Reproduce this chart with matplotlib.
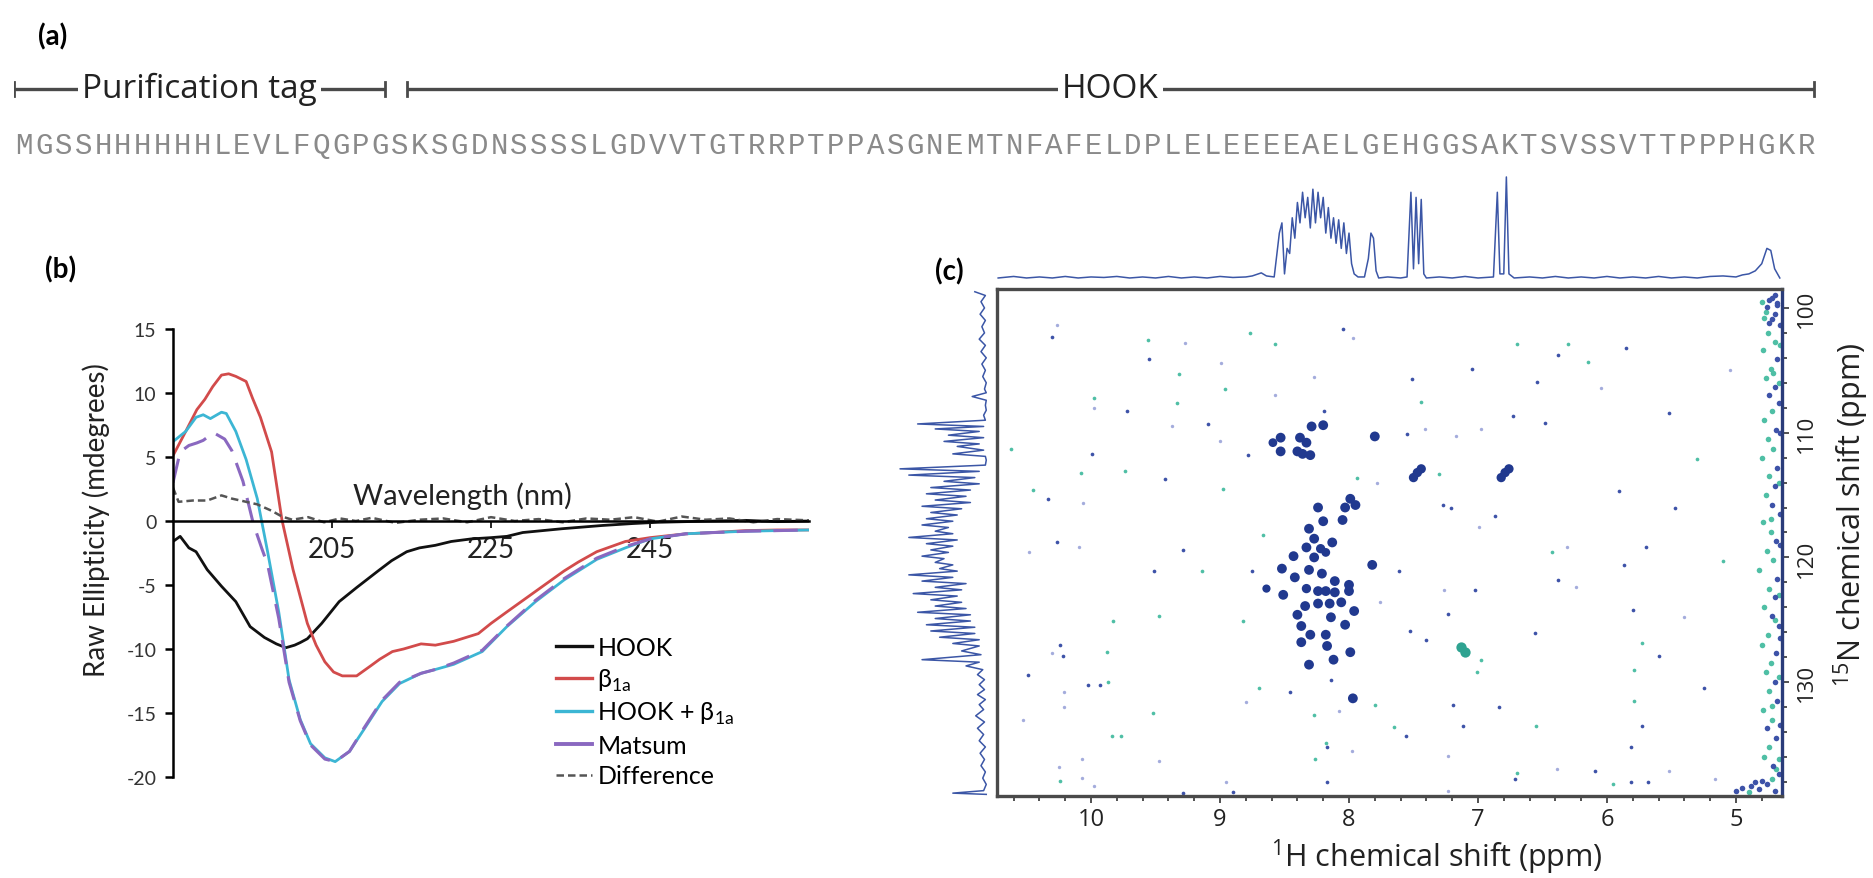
import matplotlib
matplotlib.use("Agg")
import matplotlib.pyplot as plt
from matplotlib.lines import Line2D
from matplotlib.ticker import MultipleLocator, FixedLocator

plt.rcParams['font.family'] = ['Lato', 'DejaVu Sans']
plt.rcParams['mathtext.fontset'] = 'custom'
plt.rcParams['mathtext.rm'] = 'Lato'
plt.rcParams['axes.unicode_minus'] = False

# ---------------- data ----------------
# (a) sequence and domains (residue ranges)
sequence = "MGSSHHHHHHLEVLFQGPGSKSGDNSSSSLGDVVTGTRRPTPPASGNEMTNFAFELDPLELEEEEAELGEHGGSAKTSVSSVTTPPPHGKR"
domain_names = ["Purification tag", "HOOK"]
domain_start = [0.0, 19.85]
domain_end = [18.75, 90.9]

# (b) CD spectra (wavelength nm, raw ellipticity mdeg)
wl_hook = [185, 185.9, 187, 187.9, 189.3, 191.1, 192.9, 194.7, 196.5, 198, 199.2, 200.3, 201, 201.9,
           203.7, 205.9, 208.1, 210.8, 212.5, 214.4, 216, 218, 220, 222.5, 225, 227, 229, 231.5, 234,
           236, 239, 242.8, 246, 249.5, 253, 257, 261, 265]
cd_hook = [-1.6, -1.2, -2.1, -2.4, -3.8, -5.1, -6.3, -8.25, -9.1, -9.6, -9.9, -9.7, -9.5, -9.2,
           -8.0, -6.3, -5.2, -3.9, -3.1, -2.4, -2.1, -1.9, -1.6, -1.4, -1.3, -1.2, -0.9, -0.75, -0.6,
           -0.5, -0.35, -0.2, -0.1, -0.05, 0.0, 0.05, -0.05, 0.0]

wl_beta = [185, 186.6, 188, 189, 190, 191.1, 192, 192.9, 194.2, 195, 196, 197.4, 198.7, 200.1, 201.9,
           203, 204.1, 205.2, 206.3, 208.1, 209.9, 211, 212.6, 214, 216.2, 218, 220.3, 223.4, 225, 227,
           230.6, 234.2, 236, 238.3, 241.9, 245, 249.5, 253, 257, 261, 265]
cd_beta = [5.1, 7.0, 8.7, 9.5, 10.5, 11.4, 11.5, 11.3, 10.9, 9.6, 8.1, 5.4, 0.1, -3.8, -8.0,
           -9.7, -11.0, -11.8, -12.1, -12.1, -11.3, -10.8, -10.2, -10.0, -9.6, -9.7, -9.4, -8.8, -8.0, -7.1,
           -5.5, -3.9, -3.2, -2.4, -1.6, -1.3, -1.0, -0.9, -0.75, -0.7, -0.7]

wl_mix = [185, 186.6, 187.9, 188.8, 189.7, 191.1, 191.7, 192.9, 194.2, 195.6, 196.9, 198.3, 199.6, 201,
          202.3, 204.1, 205.4, 207.2, 209, 211.3, 213.5, 216.2, 218, 220.3, 223.9, 227, 230.6, 234.2,
          238.3, 241.9, 245, 249.5, 253, 257, 261, 265]
cd_mix = [6.2, 7.0, 8.1, 8.3, 8.0, 8.5, 8.4, 7.0, 4.8, 1.75, -2.4, -7.1, -12.4, -15.5,
          -17.4, -18.5, -18.8, -18.0, -16.3, -14.1, -12.7, -11.9, -11.6, -11.2, -10.2, -8.25, -6.3, -4.6,
          -3.0, -2.1, -1.4, -1.0, -0.9, -0.8, -0.75, -0.7]

wl_sum = [185, 185.9, 187, 188, 188.8, 190.1, 191.5, 192.4, 193.8, 195.1, 196.2, 196.9, 198.3, 199.6,
          201, 202.3, 204.1, 205.4, 207.2, 209, 211.3, 213.5, 216.2, 218, 220.3, 223.9, 227, 230.6,
          234.2, 238.3, 241.9, 245, 249.5, 253, 257, 261, 265]
cd_sum = [3.0, 5.4, 5.9, 6.1, 6.3, 6.9, 6.4, 5.5, 3.1, -0.2, -2.2, -3.4, -7.6, -12.6,
          -15.6, -17.5, -18.6, -18.8, -18.0, -16.2, -14.0, -12.6, -11.9, -11.6, -11.1, -10.1, -8.2, -6.2,
          -4.5, -2.9, -2.0, -1.4, -1.0, -0.9, -0.8, -0.75, -0.7]

wl_diff = [185, 185.7, 187.5, 189.3, 191.1, 192.4, 194.2, 195.6, 197.4, 198.7, 200, 202, 204, 206, 208,
           210, 213, 216, 219, 222, 225, 228, 231, 234, 237, 240, 243, 246, 249, 252, 255, 258, 261, 265]
cd_diff = [2.6, 1.5, 1.6, 1.6, 2.0, 1.75, 1.5, 1.3, 0.8, 0.35, 0.1, 0.3, -0.1, 0.2, 0.0,
           0.25, -0.15, 0.1, 0.2, -0.1, 0.3, 0.0, 0.15, -0.1, 0.2, 0.1, 0.3, -0.05, 0.35, 0.1, 0.2, -0.1, 0.15, 0.05]

cd_labels = ["HOOK", "β$_\\mathregular{1a}$", "HOOK + β$_\\mathregular{1a}$", "Matsum", "Difference"]

# (c) 1H projection (ppm, intensity)
h_ppm = [10.72, 10.6, 10.5, 10.4, 10.3, 10.2, 10.1, 10.0, 9.9, 9.8, 9.7, 9.6, 9.5, 9.4, 9.3, 9.2, 9.1,
         9.0, 8.9, 8.8, 8.75, 8.68, 8.64, 8.58, 8.54, 8.52,
         8.50, 8.48, 8.46, 8.44, 8.42, 8.40, 8.38, 8.36, 8.34, 8.32, 8.30, 8.28, 8.26, 8.24, 8.22, 8.20,
         8.18, 8.16, 8.14, 8.12, 8.10, 8.08, 8.06, 8.04, 8.02, 8.00, 7.98, 7.96, 7.93, 7.88, 7.85, 7.83,
         7.81, 7.79, 7.77, 7.7, 7.6, 7.55, 7.52, 7.50, 7.48, 7.46, 7.44, 7.42, 7.40, 7.3, 7.2, 7.1, 7.0,
         6.88, 6.85, 6.83, 6.80, 6.78, 6.76, 6.72, 6.6, 6.5, 6.4, 6.3, 6.2, 6.1, 6.0, 5.9, 5.8, 5.7, 5.6,
         5.5, 5.4, 5.3, 5.2, 5.1, 5.0, 4.95, 4.9, 4.85, 4.8, 4.76, 4.73, 4.70, 4.66]
h_int = [1, 2.5, 1, 2, 1, 2.5, 1, 2, 1.5, 2.5, 1, 2, 1, 2.5, 1, 2, 1,
         2.5, 1.5, 2, 3, 6, 3, 2, 45, 55,
         5, 30, 25, 60, 40, 75, 55, 85, 60, 80, 50, 88, 55, 85, 60, 80,
         45, 70, 40, 60, 35, 58, 30, 55, 25, 45, 15, 5, 2, 2, 20, 45,
         40, 8, 1, 2, 1, 2, 85, 10, 80, 15, 78, 5, 1, 2, 1, 2.5, 1,
         2, 85, 5, 5, 100, 5, 1, 2, 1, 2.5, 1, 2, 1, 2.5, 1, 2, 1, 2.5,
         1, 2, 1, 2.5, 3, 2, 4, 5, 8, 15, 30, 28, 10, 1]

# (c) 15N projection (ppm, intensity)
n_ppm = [98.7, 99.0, 99.5, 100.0, 100.5, 101.0, 101.5, 102.0, 102.5, 103.0, 103.5, 104.0, 104.5, 105.0,
         105.5, 106.0, 106.5, 106.8, 107.1, 107.4, 107.8, 108.2, 108.6, 109.0, 109.3, 109.5, 109.7, 109.9,
         110.2, 110.4, 110.7, 110.9, 111.1, 111.4, 111.7, 111.9, 112.2, 112.6, 112.9, 113.1, 113.4, 113.6,
         113.9, 114.1, 114.4, 114.6, 114.9, 115.1, 115.4, 115.6, 115.9, 116.1, 116.4, 116.6, 116.9, 117.1,
         117.4, 117.6, 117.9, 118.1, 118.4, 118.6, 118.9, 119.1, 119.4, 119.6, 119.9, 120.1, 120.4, 120.6,
         120.9, 121.1, 121.4, 121.6, 121.9, 122.1, 122.4, 122.6, 122.9, 123.1, 123.4, 123.6, 123.9, 124.1,
         124.4, 124.6, 124.9, 125.1, 125.4, 125.6, 125.9, 126.1, 126.4, 126.6, 126.9, 127.1, 127.5, 127.8,
         128.2, 128.4, 128.7, 129.0, 129.4, 129.8, 130.2, 130.6, 131.0, 131.4, 131.8, 132.2, 132.7, 133.2,
         133.7, 134.2, 134.7, 135.2, 135.7, 136.2, 136.7, 137.2, 137.7, 138.2, 138.7, 138.9, 139.0]
n_int = [15, 3, 8, 4, 9, 3, 7, 4, 10, 3, 8, 2, 7, 3,
         6, 2, 4, 2, 18, 2, 3, 2, 5, 3, 80, 5, 60, 10,
         45, 5, 50, 10, 35, 5, 40, 3, 2, 3, 100, 10, 90, 15,
         50, 10, 65, 20, 70, 25, 60, 20, 75, 30, 65, 35, 70, 40,
         75, 45, 60, 40, 90, 35, 70, 40, 65, 45, 75, 50, 60, 40,
         55, 35, 90, 40, 75, 25, 60, 30, 85, 35, 65, 30, 60, 25,
         80, 20, 60, 20, 70, 15, 65, 15, 55, 10, 40, 10, 30, 8,
         75, 10, 25, 6, 12, 4, 10, 4, 12, 3, 10, 5, 14, 4,
         12, 5, 10, 3, 9, 4, 8, 3, 6, 2, 5, 40, 2]

# (c) HSQC cross peaks (1H ppm, 15N ppm, relative size)
peak_h = [8.53, 8.59, 8.53, 8.38, 8.33, 8.40, 8.36, 8.30, 8.29, 8.20, 7.80,
          7.50, 7.47, 7.44, 6.82, 6.79, 6.76,
          8.24, 8.03, 7.99, 7.95, 8.20, 8.05, 8.31, 8.27, 8.13, 8.33, 8.22, 8.27, 8.43, 8.18,
          8.52, 8.31, 8.21, 8.42, 8.11, 8.00, 8.64, 8.51, 8.33, 8.24, 8.18, 8.11, 8.00, 8.34,
          8.24, 8.15, 8.06, 8.40, 8.14, 7.96, 8.37, 8.03, 8.30, 8.18, 8.37, 8.17, 7.99, 8.31,
          8.12, 7.82, 7.97]
peak_n = [110.4, 110.8, 111.5, 110.4, 110.8, 111.5, 111.7, 111.8, 109.5, 109.4, 110.3,
          113.6, 113.2, 112.9, 113.6, 113.2, 112.9,
          116.0, 116.0, 115.3, 115.8, 117.1, 117.0, 117.7, 118.5, 118.8, 119.2, 119.3, 120.0, 119.9, 119.6,
          120.9, 121.0, 121.3, 121.6, 121.9, 122.2, 122.5, 123.0, 122.5, 122.7, 122.7, 122.8, 122.7, 123.9,
          123.7, 123.7, 123.6, 124.6, 124.8, 124.3, 125.5, 125.4, 126.2, 126.2, 126.8, 127.1, 127.6, 128.6,
          128.2, 120.6, 131.3]
peak_s = [1.0, 0.8, 1.0, 1.0, 1.0, 1.0, 1.0, 1.0, 1.0, 1.0, 1.0,
          0.9, 0.9, 0.9, 0.9, 0.9, 0.9,
          1.0, 1.0, 1.0, 1.0, 1.0, 1.0, 1.0, 1.0, 1.0, 1.0, 0.9, 1.0, 1.0, 0.8,
          1.0, 1.0, 1.0, 1.0, 1.0, 1.0, 0.7, 1.0, 0.9, 1.0, 1.0, 1.0, 1.0, 1.0,
          1.0, 1.0, 1.0, 1.0, 1.0, 1.0, 1.0, 1.0, 1.0, 1.0, 1.0, 1.0, 1.0, 1.0,
          1.0, 1.0, 1.0]
teal_h = [7.13, 7.10]
teal_n = [127.2, 127.6]

# (c) weak noise points (1H, 15N, kind: b=blue, t=teal, l=light)
noise = [(10.26, 101.4, 'l'), (10.30, 102.3, 'b'), (9.98, 107.2, 't'), (9.98, 108.0, 'l'), (10.62, 111.3, 't'),
         (9.99, 111.7, 'b'), (10.08, 113.2, 't'), (10.45, 114.6, 't'), (10.33, 115.3, 'b'), (10.06, 115.6, 'l'),
         (10.26, 118.8, 'b'), (10.48, 119.6, 'l'), (10.09, 119.2, 'l'), (10.24, 127.0, 'b'), (10.30, 127.7, 'l'),
         (10.22, 127.9, 'b'), (10.49, 129.4, 'b'), (10.21, 130.8, 'l'), (10.53, 133.0, 'l'), (10.07, 136.2, 'l'),
         (10.24, 137.9, 't'), (9.56, 102.6, 't'), (9.27, 102.8, 'l'), (9.55, 104.1, 'b'), (8.99, 104.4, 'l'),
         (8.77, 102.0, 't'), (8.57, 102.9, 't'), (9.32, 105.3, 't'), (8.96, 106.5, 't'), (9.33, 107.6, 't'),
         (9.72, 108.3, 'b'), (9.37, 109.5, 'l'), (9.09, 109.3, 'b'), (9.00, 110.7, 'l'), (8.78, 111.8, 'b'),
         (8.57, 107.0, 'l'), (8.27, 105.5, 'l'), (8.19, 108.3, 'b'), (8.05, 101.7, 'b'), (7.97, 102.4, 'l'),
         (7.51, 105.7, 'b'), (7.44, 107.5, 't'), (7.41, 109.7, 'l'), (7.55, 110.1, 'b'), (7.17, 110.3, 'l'),
         (7.05, 104.9, 'b'), (6.98, 109.7, 'l'), (6.73, 108.7, 'b'), (6.54, 105.9, 'b'), (6.48, 109.2, 'b'),
         (6.38, 103.8, 'b'), (6.30, 102.9, 't'), (6.15, 104.3, 't'), (6.70, 102.9, 't'), (9.74, 113.1, 't'),
         (9.43, 113.7, 'b'), (8.98, 114.5, 't'), (8.67, 118.2, 't'), (9.29, 119.4, 'b'), (9.51, 121.1, 'b'),
         (9.14, 121.1, 't'), (8.75, 121.1, 'b'), (9.47, 124.7, 't'), (9.83, 125.1, 't'), (8.82, 125.1, 't'),
         (9.88, 127.6, 't'), (10.02, 130.2, 'b'), (9.93, 130.2, 'b'), (9.87, 130.0, 't'), (10.21, 132.0, 'l'),
         (9.52, 132.5, 't'), (8.46, 130.8, 'b'), (8.70, 130.5, 't'), (8.80, 131.6, 'l'), (8.27, 132.6, 't'),
         (8.18, 134.9, 't'), (9.84, 134.3, 't'), (9.77, 134.3, 't'), (10.07, 137.7, 'l'), (8.17, 138.0, 'b'),
         (7.78, 114.0, 'l'), (7.94, 113.6, 't'), (7.30, 113.3, 't'), (7.27, 115.8, 'b'), (7.21, 116.0, 'b'),
         (6.87, 116.7, 'b'), (6.99, 117.6, 'l'), (6.43, 119.6, 't'), (6.31, 119.2, 'l'), (5.91, 114.7, 'b'),
         (5.70, 119.2, 'b'), (5.87, 120.6, 'b'), (6.38, 121.8, 'b'), (6.24, 122.4, 'l'), (7.02, 122.6, 'b'),
         (7.26, 122.6, 'l'), (7.61, 121.1, 'b'), (7.76, 123.6, 'l'), (7.23, 124.5, 'b'), (7.53, 125.9, 'b'),
         (7.40, 126.6, 'b'), (6.56, 126.1, 'b'), (5.80, 124.2, 'b'), (5.73, 126.9, 't'), (5.79, 129.0, 't'),
         (5.79, 131.5, 't'), (5.73, 133.5, 'b'), (6.98, 128.2, 't'), (7.01, 129.2, 't'), (7.19, 131.8, 'b'),
         (6.84, 132.0, 'b'), (7.12, 133.5, 'b'), (7.56, 134.3, 'b'), (7.65, 133.6, 't'), (6.55, 133.5, 't'),
         (6.70, 137.3, 't'), (7.23, 138.7, 'l'), (5.81, 138.0, 'b'), (7.80, 131.8, 't'), (8.08, 132.3, 'l'),
         (8.14, 129.8, 'b'), (8.17, 135.2, 'b'), (7.98, 135.5, 'l'), (8.26, 136.2, 't'), (7.23, 135.9, 'l'),
         (6.71, 137.8, 'b'), (6.39, 137.0, 'l'), (6.09, 137.1, 'b'), (5.68, 138.0, 'b'), (5.81, 135.2, 'b'),
         (5.52, 137.1, 'l'), (5.16, 137.8, 'l'), (5.95, 138.2, 't'), (10.25, 136.8, 'l'), (9.98, 138.3, 'l'),
         (9.47, 136.3, 'l'), (8.95, 138.0, 'l'), (9.29, 138.9, 'b'), (8.90, 138.8, 'b'), (5.47, 116.0, 'b'),
         (5.52, 108.4, 'b'), (5.85, 103.2, 'b'), (6.05, 106.4, 'l'), (5.30, 112.1, 't'), (5.25, 130.5, 'b'),
         (5.40, 124.8, 'l'), (5.10, 120.3, 't'), (5.60, 127.9, 'b'), (5.05, 105.0, 'l')]

# water band at the right edge
edge = [(4.70, 99.0, 'b'), (4.74, 99.4, 'b'), (4.68, 99.8, 'b'), (4.77, 100.3, 't'), (4.72, 100.9, 'b'),
        (4.66, 101.4, 'b'), (4.75, 102.0, 't'), (4.70, 102.7, 't'), (4.79, 103.4, 't'), (4.68, 104.1, 'b'),
        (4.73, 104.9, 't'), (4.77, 105.6, 't'), (4.70, 106.3, 'b'), (4.74, 107.0, 'b'), (4.67, 107.6, 'b'),
        (4.72, 108.3, 't'), (4.78, 109.0, 't'), (4.69, 109.8, 'b'), (4.75, 110.5, 't'), (4.71, 111.3, 't'),
        (4.80, 112.0, 't'), (4.68, 112.8, 'b'), (4.74, 113.5, 't'), (4.70, 114.3, 'b'), (4.77, 115.0, 't'),
        (4.72, 115.8, 'b'), (4.66, 116.5, 'b'), (4.79, 117.2, 't'), (4.73, 118.0, 't'), (4.69, 118.7, 'b'),
        (4.76, 119.5, 't'), (4.71, 120.2, 't'), (4.82, 121.0, 't'), (4.68, 121.7, 'b'), (4.74, 122.5, 't'),
        (4.70, 123.2, 'b'), (4.78, 124.0, 't'), (4.72, 124.7, 'b'), (4.67, 125.5, 'b'), (4.75, 126.2, 't'),
        (4.80, 127.0, 't'), (4.69, 127.7, 'b'), (4.73, 128.5, 't'), (4.77, 129.2, 't'), (4.70, 130.0, 'b'),
        (4.74, 130.7, 't'), (4.68, 131.5, 'b'), (4.79, 132.2, 't'), (4.72, 133.0, 't'), (4.76, 133.7, 'b'),
        (4.69, 134.5, 'b'), (4.74, 135.2, 't'), (4.78, 136.0, 't'), (4.71, 136.7, 'b'), (4.67, 137.4, 'b'),
        (4.95, 138.5, 'b'), (4.88, 138.3, 'b'), (4.82, 138.6, 'b'), (4.76, 138.2, 'b'), (4.70, 138.7, 'b'),
        (4.90, 138.8, 't'), (4.80, 137.9, 'b'), (4.72, 137.8, 't'), (4.85, 138.0, 'b'), (5.00, 138.7, 'b'),
        (4.72, 99.2, 'b'), (4.68, 99.6, 'b'), (4.76, 99.9, 'b'), (4.70, 100.5, 'b'), (4.78, 100.8, 't'),
        (4.74, 101.2, 'b'), (4.80, 99.5, 't'), (4.66, 103.0, 't'), (4.67, 106.0, 't'), (4.66, 110.0, 'b'),
        (4.67, 114.0, 't'), (4.66, 119.0, 'b'), (4.67, 123.0, 't'), (4.66, 126.5, 'b'), (4.67, 129.6, 't'),
        (4.66, 133.4, 'b'), (4.67, 136.2, 't'), (4.71, 105.2, 't'), (4.73, 116.9, 't'), (4.70, 125.0, 't'),
        (4.72, 131.9, 't'), (4.69, 137.0, 't')]

# ---------------- figure ----------------
W, H = 1874, 879
fig = plt.figure(figsize=(W / 100, H / 100), dpi=100)


def rect(x0, y0, x1, y1):
    # pixel box (origin top-left) -> figure fraction
    return [x0 / W, 1 - y1 / H, (x1 - x0) / W, (y1 - y0) / H]


def fig_xy(x, y):
    return x / W, 1 - y / H


# ---- (a) ----
fig.text(*fig_xy(38, 37), "(a)", fontsize=20, fontweight='bold', va='center', ha='left')
ax_a = fig.add_axes(rect(14, 60, 1816, 170))
ax_a.set_xlim(0, len(sequence))
ax_a.set_ylim(170, 60)
ax_a.axis('off')
for name, s, e in zip(domain_names, domain_start, domain_end):
    ax_a.plot([s, e], [90, 90], color='#4a4a4a', lw=2.4, solid_capstyle='butt')
    ax_a.plot([s, s], [83, 97], color='#4a4a4a', lw=2.0)
    ax_a.plot([e, e], [83, 97], color='#4a4a4a', lw=2.0)
    ax_a.text((s + e) / 2, 89, name, family='Open Sans', fontsize=24, ha='center', va='center',
              color='#222222', bbox=dict(fc='white', ec='none', pad=3))
for i, aa in enumerate(sequence):
    ax_a.text(i + 0.5, 146, aa, family='Liberation Mono', fontsize=21, color='#8a8a8a',
              ha='center', va='center')

# ---- (b) ----
fig.text(*fig_xy(45, 270), "(b)", fontsize=20, fontweight='bold', va='center', ha='left')
ax_b = fig.add_axes(rect(173, 330, 809, 778))
ax_b.set_xlim(185, 265)
ax_b.set_ylim(-20, 15)
ax_b.plot(wl_hook, cd_hook, color='#111111', lw=2.0)
ax_b.plot(wl_beta, cd_beta, color='#d24b4b', lw=2.0)
ax_b.plot(wl_mix, cd_mix, color='#3cb6d4', lw=2.0)
ax_b.plot(wl_sum, cd_sum, color='#8a68c0', lw=2.2, dashes=(8, 4))
ax_b.plot(wl_diff, cd_diff, color='#555555', lw=1.8, dashes=(3, 1.6))
for sp in ['top', 'right']:
    ax_b.spines[sp].set_visible(False)
ax_b.spines['bottom'].set_position(('data', 0))
ax_b.spines['left'].set_linewidth(1.8)
ax_b.spines['bottom'].set_linewidth(1.8)
ax_b.set_yticks([15, 10, 5, 0, -5, -10, -15, -20])
ax_b.set_xticks([205, 225, 245])
ax_b.tick_params(axis='y', direction='out', length=6, width=1.8, labelsize=14, pad=6, labelcolor='#333333')
ax_b.tick_params(axis='x', direction='out', length=5, width=1.2, labelsize=20, pad=6, labelcolor='#222222')
fig.text(*fig_xy(96, 520), "Raw Ellipticity (mdegrees)", rotation=90, fontsize=20,
         ha='center', va='center', color='#222222')
fig.text(*fig_xy(462, 496), "Wavelength (nm)", fontsize=21, ha='center', va='center', color='#222222')
handles = [Line2D([], [], color='#111111', lw=2.4),
           Line2D([], [], color='#d24b4b', lw=2.4),
           Line2D([], [], color='#3cb6d4', lw=2.4),
           Line2D([], [], color='#8a68c0', lw=2.8),
           Line2D([], [], color='#555555', lw=1.8, dashes=(3, 1.6))]
ax_b.legend(handles, cd_labels, loc='upper left', bbox_to_anchor=fig_xy(556, 637),
            bbox_transform=fig.transFigure, frameon=False, fontsize=18, handlelength=1.45,
            handletextpad=0.2, labelspacing=0.3, borderaxespad=0, borderpad=0)

# ---- (c) ----
fig.text(*fig_xy(935, 272), "(c)", fontsize=20, fontweight='bold', va='center', ha='left')
xl = (10.729, 4.643)
yl = (139.13, 98.48)
ax_c = fig.add_axes(rect(997, 290, 1782, 797))
ax_c.set_xlim(*xl)
ax_c.set_ylim(*yl)
cmap = {'b': '#3d52a8', 't': '#4fbfa5', 'l': '#a4acdc'}
for kind, sz in [('l', 6), ('t', 7), ('b', 7)]:
    pts = [p for p in noise if p[2] == kind]
    ax_c.scatter([p[0] for p in pts], [p[1] for p in pts], s=sz, color=cmap[kind],
                 linewidths=0, zorder=2)
for kind, sz in [('t', 16), ('b', 16)]:
    pts = [p for p in edge if p[2] == kind]
    ax_c.scatter([p[0] for p in pts], [p[1] for p in pts], s=sz, color=cmap[kind],
                 linewidths=0, zorder=2, clip_on=True)
ax_c.scatter(teal_h, teal_n, s=55, color='#2fa391', linewidths=0, zorder=3)
ax_c.scatter(peak_h, peak_n, s=[50 * v for v in peak_s], color='#21398f', linewidths=0, zorder=3)
for sp in ax_c.spines.values():
    sp.set_linewidth(2.4)
    sp.set_color('#4a4a4a')
ax_c.spines['right'].set_color('#2a3c7a')
ax_c.xaxis.set_major_locator(FixedLocator([10, 9, 8, 7, 6, 5]))
ax_c.xaxis.set_minor_locator(MultipleLocator(0.2))
ax_c.set_xticklabels(['10', '9', '8', '7', '6', '5'])
ax_c.yaxis.tick_right()
ax_c.yaxis.set_major_locator(FixedLocator([100, 110, 120, 130]))
ax_c.yaxis.set_minor_locator(MultipleLocator(2))
ax_c.set_yticklabels(['100', '110', '120', '130'], rotation=90, va='center')
ax_c.tick_params(which='both', direction='out', color='#333333', width=1.2)
ax_c.tick_params(which='major', length=5)
ax_c.tick_params(which='minor', length=3.5)
ax_c.tick_params(axis='x', labelsize=17, pad=3, labelcolor='#222222')
ax_c.tick_params(axis='y', labelsize=16, pad=5, labelcolor='#222222')
for lab in ax_c.get_xticklabels() + ax_c.get_yticklabels():
    lab.set_family('Open Sans')
fig.text(*fig_xy(1437, 857), "$^\\mathregular{1}$H chemical shift (ppm)", family='Open Sans', fontsize=22,
         ha='center', va='center', color='#222222')
fig.text(*fig_xy(1851, 515), "$^\\mathregular{15}$N chemical shift (ppm)", family='Open Sans', fontsize=22,
         rotation=90, ha='center', va='center', color='#222222')

ax_top = fig.add_axes(rect(997, 170, 1782, 290))
ax_top.plot(h_ppm, h_int, color='#3b56a6', lw=1.1)
ax_top.set_xlim(*xl)
ax_top.set_ylim(-9.8, 107.8)
ax_top.axis('off')

ax_left = fig.add_axes(rect(898, 290, 997, 797))
ax_left.plot(n_int, n_ppm, color='#3b56a6', lw=1.1)
ax_left.set_xlim(102.3, -10.2)
ax_left.set_ylim(*yl)
ax_left.axis('off')

fig.savefig("out.png", dpi=100)
